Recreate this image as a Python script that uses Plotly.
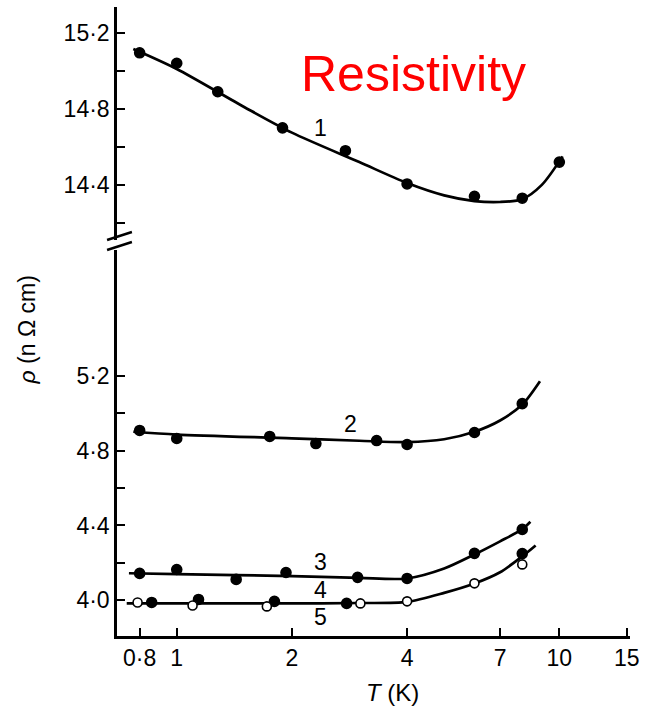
import math
import plotly.graph_objects as go

# ---------------- data ----------------
T1 = [0.8, 1.0, 1.28, 1.89, 2.76, 4.0, 6.0, 8.0, 10.0]
rho1 = [15.095, 15.04, 14.89, 14.70, 14.58, 14.405, 14.34, 14.33, 14.52]

T2 = [0.8, 1.0, 1.75, 2.31, 3.33, 4.0, 6.0, 8.0]
rho2 = [4.907, 4.864, 4.875, 4.837, 4.853, 4.832, 4.896, 5.05]

T3 = [0.8, 1.0, 1.43, 1.93, 2.97, 4.0, 6.0, 8.0]
rho3 = [4.144, 4.165, 4.112, 4.149, 4.123, 4.117, 4.251, 4.379]

T4 = [0.86, 1.14, 1.80, 2.78, 8.0]
rho4 = [3.989, 4.005, 3.995, 3.984, 4.25]

T5 = [0.79, 1.10, 1.72, 3.02, 4.0, 6.0, 8.0]
rho5 = [3.989, 3.973, 3.968, 3.984, 3.995, 4.091, 4.192]

# smooth curves drawn through the points
fitT1 = [0.77, 1.0, 1.5, 2.0, 3.0, 4.0, 5.0, 6.0, 7.0, 8.0, 9.0, 10.2]
fit1 = [15.115, 15.01, 14.81, 14.675, 14.52, 14.41, 14.345, 14.315, 14.31, 14.325, 14.40, 14.55]

fitT2 = [0.77, 1.0, 2.0, 3.0, 4.0, 5.0, 6.0, 7.0, 8.0, 8.9]
fit2 = [4.90, 4.885, 4.865, 4.852, 4.845, 4.86, 4.90, 4.96, 5.045, 5.17]

fitT3 = [0.75, 1.0, 2.0, 3.0, 4.0, 5.0, 6.0, 7.0, 8.0, 8.4]
fit3 = [4.145, 4.14, 4.13, 4.12, 4.117, 4.17, 4.245, 4.315, 4.38, 4.42]

fitT45 = [0.74, 1.0, 2.0, 3.0, 4.0, 5.0, 6.0, 7.0, 8.0, 8.67]
fit45 = [3.984, 3.984, 3.984, 3.986, 3.992, 4.04, 4.09, 4.15, 4.235, 4.293]

x_tickvals = [0.8, 1, 2, 4, 7, 10, 15]
x_ticktext = ["0·8", "1", "2", "4", "7", "10", "15"]

top_tickvals = [14.2, 14.4, 14.6, 14.8, 15.0, 15.2]
top_ticktext = ["", "14·4", "", "14·8", "", "15·2"]
bot_tickvals = [4.0, 4.2, 4.4, 4.6, 4.8, 5.0, 5.2]
bot_ticktext = ["4·0", "", "4·4", "", "4·8", "", "5·2"]

curve_labels = [  # text, T, rho, axis
    ("1", 2.38, 14.70, "y2"),
    ("2", 2.85, 4.944, "y"),
    ("3", 2.38, 4.203, "y"),
    ("4", 2.38, 4.053, "y"),
    ("5", 2.38, 3.909, "y"),
]

FONT = "Liberation Sans"
BLACK = "#000000"

fig = go.Figure()

def add_line(x, y, axis):
    fig.add_trace(go.Scatter(x=x, y=y, mode="lines", yaxis=axis,
                             line=dict(color=BLACK, width=2.7, shape="spline", smoothing=0.8),
                             showlegend=False, hoverinfo="skip"))

def add_points(x, y, axis, filled=True):
    fig.add_trace(go.Scatter(x=x, y=y, mode="markers", yaxis=axis,
                             marker=dict(size=10 if filled else 9,
                                         color=BLACK if filled else "white",
                                         line=dict(color=BLACK, width=1.6)),
                             showlegend=False))

add_line(fitT1, fit1, "y2")
add_line(fitT2, fit2, "y")
add_line(fitT3, fit3, "y")
add_line(fitT45, fit45, "y")

add_points(T1, rho1, "y2")
add_points(T2, rho2, "y")
add_points(T3, rho3, "y")
add_points(T4, rho4, "y")
add_points(T5, rho5, "y", filled=False)

W, H = 646, 708
L, R, T, B = 117, 13, 7, 72
ph = H - T - B
pw = W - L - R

def py(pix):   # pixel row -> paper y
    return (H - B - pix) / ph

def px(pix):   # pixel col -> paper x
    return (pix - L) / pw

axis_common = dict(showline=True, linecolor=BLACK, linewidth=2.5,
                   ticks="inside", ticklen=8, tickwidth=2, tickcolor=BLACK,
                   showgrid=False, zeroline=False,
                   tickfont=dict(family=FONT, size=23, color=BLACK))

fig.update_layout(
    width=W, height=H,
    margin=dict(l=L, r=R, t=T, b=B),
    paper_bgcolor="white", plot_bgcolor="white",
    xaxis=dict(type="log", range=[math.log10(0.698), math.log10(15.3)],
               tickvals=x_tickvals, ticktext=x_ticktext, **axis_common),
    yaxis=dict(domain=[0, py(250)], range=[3.81, 5.87],
               tickvals=bot_tickvals, ticktext=bot_ticktext, **axis_common),
    yaxis2=dict(domain=[py(240), 1], range=[14.11, 15.336], anchor="x",
                tickvals=top_tickvals, ticktext=top_ticktext, **axis_common),
    showlegend=False,
)

annotations = []
for txt, t, r, ax in curve_labels:
    annotations.append(dict(text=txt, x=math.log10(t), y=r, xref="x", yref=ax,
                            showarrow=False, font=dict(family=FONT, size=23, color=BLACK)))

annotations.append(dict(text="<i>ρ</i> (n Ω cm)", x=px(26), y=py(330), xref="paper", yref="paper",
                        textangle=-90, showarrow=False, xanchor="center", yanchor="middle",
                        font=dict(family=FONT, size=23, color=BLACK)))
annotations.append(dict(text="<i>T</i> (K)", x=px(394), y=py(692), xref="paper", yref="paper",
                        showarrow=False, xanchor="center", yanchor="middle",
                        font=dict(family=FONT, size=24, color=BLACK)))
annotations.append(dict(text="Resistivity", x=px(415), y=py(74), xref="paper", yref="paper",
                        showarrow=False, xanchor="center", yanchor="middle",
                        font=dict(family=FONT, size=50, color="#ff0000")))
fig.update_layout(annotations=annotations)

# axis break marks
shapes = []
for yc in (236, 246):
    shapes.append(dict(type="line", xref="paper", yref="paper",
                       x0=px(107), y0=py(yc + 4), x1=px(132), y1=py(yc - 4),
                       line=dict(color=BLACK, width=2.5)))
fig.update_layout(shapes=shapes)

fig.write_html("out.html")
